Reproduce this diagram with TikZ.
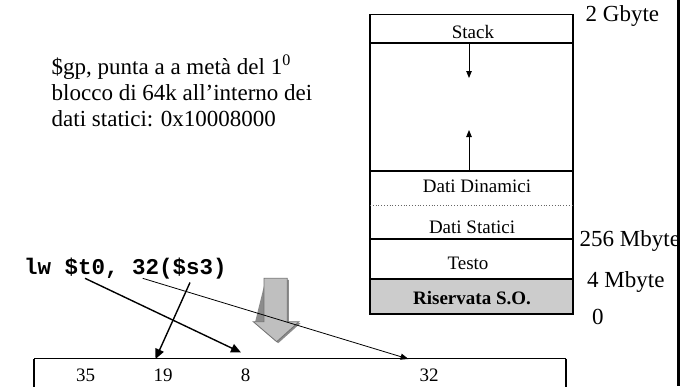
\documentclass[tikz,border=0pt]{standalone}
\usepackage{fontspec}
\setmainfont{Liberation Serif}
\setmonofont{Liberation Mono}
\usetikzlibrary{arrows.meta}
\begin{document}
\begin{tikzpicture}[x=1pt,y=-1pt,
  memline/.style={line width=1.1pt},
  memlabel/.style={font=\fontsize{19}{22}\selectfont, inner sep=0pt},
  sidelabel/.style={font=\fontsize{23}{26}\selectfont, anchor=west, inner sep=0pt},
  numlabel/.style={font=\fontsize{19}{22}\selectfont, inner sep=0pt},
  smallarrow/.style={line width=0.9pt, -{Triangle[length=7pt,width=5.5pt]}},
  bigarrow/.style={line width=1.4pt, -{Triangle[length=10pt,width=9pt]}},
  thinarrow/.style={line width=0.8pt, -{Triangle[length=8pt,width=6pt]}},
  blockarrow/.style={fill=black!25, draw=black!55, line width=0.8pt, line join=miter}
]
\clip (0,0) rectangle (684,386);
\fill[white] (0,0) rectangle (684,386);

% memory map
\fill[black!20] (370,279) rectangle (573,314);
\draw[memline] (370,14.5) rectangle (573,314);
\draw[memline] (370,43) -- (573,43);
\draw[memline] (370,171) -- (573,171);
\draw[black!60, line width=0.8pt, dotted] (370,205) -- (573,205);
\draw[memline] (370,239) -- (573,239);
\draw[memline] (370,279) -- (573,279);

\node[memlabel] (stack) at (473,31.5) {Stack};
\node[memlabel] (dyn) at (477,186) {Dati Dinamici};
\node[memlabel] (stat) at (472,227) {Dati Statici};
\node[memlabel] (text) at (468,263.5) {Testo};
\node[memlabel, font=\fontsize{19}{22}\selectfont\bfseries] (os) at (472,298.5) {Riservata S.O.};

\coordinate (stackb) at (469,43);
\coordinate (stackend) at (469,78);
\coordinate (heapb) at (469,171);
\coordinate (heapend) at (469,130);
\draw[smallarrow] (stackb) -- (stackend);
\draw[smallarrow] (heapb) -- (heapend);

\node[sidelabel] (g2) at (585.5,16) {2 Gbyte};
\node[sidelabel] (m256) at (579.5,240.5) {256 Mbyte};
\node[sidelabel] (m4) at (587,281.5) {4 Mbyte};
\node[sidelabel] (z0) at (592,317) {0};

% right border line
\fill[black] (677.2,0) rectangle (679.8,386);

% explanation text
\node[anchor=north west, align=left, inner sep=0pt,
  font=\fontsize{23}{26.2}\selectfont] (gp) at (51.5,54.5)
  {\$gp, punta a a metà del 1\textsuperscript{0}\\
   blocco di 64k all’interno dei\\
   dati statici: 0x10008000};

% instruction
\node[anchor=west, inner sep=0pt, font=\fontsize{22.5}{26}\selectfont\ttfamily\bfseries] (code) at (24,268.5) {lw \$t0, 32(\$s3)};

% instruction format box
\draw[memline] (34,358.5) -- (566,358.5);
\draw[memline] (34,358.5) -- (34,390);
\draw[memline] (566,358.5) -- (566,390);
\node[numlabel] (n35) at (85.6,375.5) {35};
\node[numlabel] (n19) at (163,375.5) {19};
\node[numlabel] (n8) at (245.7,375.5) {8};
\node[numlabel] (n32) at (429,375.5) {32};

% grey block arrow
\fill[black!45] (265.5,279.8) -- (288.8,279.8) -- (288.8,323.2) -- (300.5,323.2) -- (278.2,343.2) -- (254.8,323.2) -- cycle;
\filldraw[blockarrow] (264,278.3) -- (287.3,278.3) -- (287.3,321.7) -- (299,321.7) -- (276.7,341.7) -- (253.3,321.7) -- (264,321.7) -- cycle;

% field arrows
\coordinate (t0) at (85,278.3);
\coordinate (s3) at (190,282.5);
\coordinate (imm) at (142.7,278.3);
\coordinate (f8) at (241,352.5);
\coordinate (f19) at (155.5,359);
\coordinate (f32) at (408.5,359);
\draw[bigarrow] (t0) -- (f8);
\draw[bigarrow] (s3) -- (f19);
\draw[thinarrow] (imm) -- (f32);
\end{tikzpicture}
\end{document}
